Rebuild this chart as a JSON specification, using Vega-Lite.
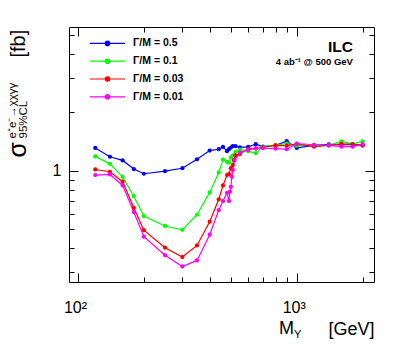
{
  "$schema": "https://vega.github.io/schema/vega-lite/v6.json",
  "width": 305,
  "height": 255,
  "autosize": {"type": "none"},
  "padding": {"left": 69, "top": 27, "right": 33, "bottom": 62},
  "background": "white",
  "config": {"view": {"stroke": null}, "font": "Liberation Sans"},
  "title": {"text": "Y", "orient": "bottom", "anchor": "start", "frame": "group", "dx": 225, "offset": -9, "fontSize": 11, "font": "Liberation Sans", "fontWeight": "normal", "color": "black", "baseline": "top"},
  "data": {"values": [
    {"mass": 120, "series": "Γ/M = 0.5", "sigma": 1.31},
    {"mass": 140, "series": "Γ/M = 0.5", "sigma": 1.18},
    {"mass": 160, "series": "Γ/M = 0.5", "sigma": 1.13},
    {"mass": 180, "series": "Γ/M = 0.5", "sigma": 1.02},
    {"mass": 200, "series": "Γ/M = 0.5", "sigma": 0.965},
    {"mass": 250, "series": "Γ/M = 0.5", "sigma": 0.995},
    {"mass": 300, "series": "Γ/M = 0.5", "sigma": 1.03},
    {"mass": 350, "series": "Γ/M = 0.5", "sigma": 1.145},
    {"mass": 400, "series": "Γ/M = 0.5", "sigma": 1.27},
    {"mass": 440, "series": "Γ/M = 0.5", "sigma": 1.29},
    {"mass": 460, "series": "Γ/M = 0.5", "sigma": 1.325},
    {"mass": 480, "series": "Γ/M = 0.5", "sigma": 1.26},
    {"mass": 490, "series": "Γ/M = 0.5", "sigma": 1.29},
    {"mass": 500, "series": "Γ/M = 0.5", "sigma": 1.315},
    {"mass": 510, "series": "Γ/M = 0.5", "sigma": 1.34},
    {"mass": 525, "series": "Γ/M = 0.5", "sigma": 1.34},
    {"mass": 550, "series": "Γ/M = 0.5", "sigma": 1.32},
    {"mass": 600, "series": "Γ/M = 0.5", "sigma": 1.325},
    {"mass": 650, "series": "Γ/M = 0.5", "sigma": 1.37},
    {"mass": 700, "series": "Γ/M = 0.5", "sigma": 1.33},
    {"mass": 800, "series": "Γ/M = 0.5", "sigma": 1.35},
    {"mass": 900, "series": "Γ/M = 0.5", "sigma": 1.42},
    {"mass": 1000, "series": "Γ/M = 0.5", "sigma": 1.31},
    {"mass": 1200, "series": "Γ/M = 0.5", "sigma": 1.35},
    {"mass": 1400, "series": "Γ/M = 0.5", "sigma": 1.365},
    {"mass": 1600, "series": "Γ/M = 0.5", "sigma": 1.36},
    {"mass": 1800, "series": "Γ/M = 0.5", "sigma": 1.365},
    {"mass": 2000, "series": "Γ/M = 0.5", "sigma": 1.35},

    {"mass": 120, "series": "Γ/M = 0.1", "sigma": 1.185},
    {"mass": 140, "series": "Γ/M = 0.1", "sigma": 1.085},
    {"mass": 160, "series": "Γ/M = 0.1", "sigma": 0.93},
    {"mass": 180, "series": "Γ/M = 0.1", "sigma": 0.74},
    {"mass": 200, "series": "Γ/M = 0.1", "sigma": 0.585},
    {"mass": 250, "series": "Γ/M = 0.1", "sigma": 0.52},
    {"mass": 300, "series": "Γ/M = 0.1", "sigma": 0.497},
    {"mass": 350, "series": "Γ/M = 0.1", "sigma": 0.594},
    {"mass": 400, "series": "Γ/M = 0.1", "sigma": 0.774},
    {"mass": 440, "series": "Γ/M = 0.1", "sigma": 0.98},
    {"mass": 460, "series": "Γ/M = 0.1", "sigma": 1.14},
    {"mass": 480, "series": "Γ/M = 0.1", "sigma": 1.11},
    {"mass": 490, "series": "Γ/M = 0.1", "sigma": 1.10},
    {"mass": 500, "series": "Γ/M = 0.1", "sigma": 1.17},
    {"mass": 510, "series": "Γ/M = 0.1", "sigma": 1.2},
    {"mass": 525, "series": "Γ/M = 0.1", "sigma": 1.25},
    {"mass": 550, "series": "Γ/M = 0.1", "sigma": 1.285},
    {"mass": 600, "series": "Γ/M = 0.1", "sigma": 1.26},
    {"mass": 650, "series": "Γ/M = 0.1", "sigma": 1.23},
    {"mass": 700, "series": "Γ/M = 0.1", "sigma": 1.33},
    {"mass": 800, "series": "Γ/M = 0.1", "sigma": 1.355},
    {"mass": 900, "series": "Γ/M = 0.1", "sigma": 1.38},
    {"mass": 1000, "series": "Γ/M = 0.1", "sigma": 1.345},
    {"mass": 1200, "series": "Γ/M = 0.1", "sigma": 1.35},
    {"mass": 1400, "series": "Γ/M = 0.1", "sigma": 1.35},
    {"mass": 1600, "series": "Γ/M = 0.1", "sigma": 1.415},
    {"mass": 1800, "series": "Γ/M = 0.1", "sigma": 1.375},
    {"mass": 2000, "series": "Γ/M = 0.1", "sigma": 1.415},

    {"mass": 120, "series": "Γ/M = 0.03", "sigma": 1.015},
    {"mass": 140, "series": "Γ/M = 0.03", "sigma": 0.988},
    {"mass": 160, "series": "Γ/M = 0.03", "sigma": 0.878},
    {"mass": 180, "series": "Γ/M = 0.03", "sigma": 0.645},
    {"mass": 200, "series": "Γ/M = 0.03", "sigma": 0.495},
    {"mass": 250, "series": "Γ/M = 0.03", "sigma": 0.402},
    {"mass": 300, "series": "Γ/M = 0.03", "sigma": 0.36},
    {"mass": 350, "series": "Γ/M = 0.03", "sigma": 0.413},
    {"mass": 400, "series": "Γ/M = 0.03", "sigma": 0.547},
    {"mass": 440, "series": "Γ/M = 0.03", "sigma": 0.713},
    {"mass": 460, "series": "Γ/M = 0.03", "sigma": 0.84},
    {"mass": 480, "series": "Γ/M = 0.03", "sigma": 0.95},
    {"mass": 490, "series": "Γ/M = 0.03", "sigma": 0.96},
    {"mass": 500, "series": "Γ/M = 0.03", "sigma": 1.03},
    {"mass": 510, "series": "Γ/M = 0.03", "sigma": 1.07},
    {"mass": 515, "series": "Γ/M = 0.03", "sigma": 1.135},
    {"mass": 525, "series": "Γ/M = 0.03", "sigma": 1.2},
    {"mass": 550, "series": "Γ/M = 0.03", "sigma": 1.22},
    {"mass": 600, "series": "Γ/M = 0.03", "sigma": 1.30},
    {"mass": 650, "series": "Γ/M = 0.03", "sigma": 1.30},
    {"mass": 700, "series": "Γ/M = 0.03", "sigma": 1.32},
    {"mass": 800, "series": "Γ/M = 0.03", "sigma": 1.35},
    {"mass": 900, "series": "Γ/M = 0.03", "sigma": 1.345},
    {"mass": 1000, "series": "Γ/M = 0.03", "sigma": 1.375},
    {"mass": 1200, "series": "Γ/M = 0.03", "sigma": 1.33},
    {"mass": 1400, "series": "Γ/M = 0.03", "sigma": 1.35},
    {"mass": 1600, "series": "Γ/M = 0.03", "sigma": 1.375},
    {"mass": 1800, "series": "Γ/M = 0.03", "sigma": 1.365},
    {"mass": 2000, "series": "Γ/M = 0.03", "sigma": 1.35},

    {"mass": 120, "series": "Γ/M = 0.01", "sigma": 0.95},
    {"mass": 140, "series": "Γ/M = 0.01", "sigma": 0.957},
    {"mass": 160, "series": "Γ/M = 0.01", "sigma": 0.84},
    {"mass": 180, "series": "Γ/M = 0.01", "sigma": 0.613},
    {"mass": 200, "series": "Γ/M = 0.01", "sigma": 0.458},
    {"mass": 250, "series": "Γ/M = 0.01", "sigma": 0.368},
    {"mass": 300, "series": "Γ/M = 0.01", "sigma": 0.322},
    {"mass": 350, "series": "Γ/M = 0.01", "sigma": 0.346},
    {"mass": 400, "series": "Γ/M = 0.01", "sigma": 0.469},
    {"mass": 440, "series": "Γ/M = 0.01", "sigma": 0.628},
    {"mass": 460, "series": "Γ/M = 0.01", "sigma": 0.698},
    {"mass": 480, "series": "Γ/M = 0.01", "sigma": 0.77},
    {"mass": 490, "series": "Γ/M = 0.01", "sigma": 0.70},
    {"mass": 495, "series": "Γ/M = 0.01", "sigma": 0.78},
    {"mass": 500, "series": "Γ/M = 0.01", "sigma": 0.827},
    {"mass": 505, "series": "Γ/M = 0.01", "sigma": 0.93},
    {"mass": 510, "series": "Γ/M = 0.01", "sigma": 1.01},
    {"mass": 520, "series": "Γ/M = 0.01", "sigma": 1.135},
    {"mass": 550, "series": "Γ/M = 0.01", "sigma": 1.24},
    {"mass": 600, "series": "Γ/M = 0.01", "sigma": 1.28},
    {"mass": 650, "series": "Γ/M = 0.01", "sigma": 1.305},
    {"mass": 700, "series": "Γ/M = 0.01", "sigma": 1.305},
    {"mass": 800, "series": "Γ/M = 0.01", "sigma": 1.30},
    {"mass": 900, "series": "Γ/M = 0.01", "sigma": 1.29},
    {"mass": 1000, "series": "Γ/M = 0.01", "sigma": 1.38},
    {"mass": 1200, "series": "Γ/M = 0.01", "sigma": 1.36},
    {"mass": 1400, "series": "Γ/M = 0.01", "sigma": 1.35},
    {"mass": 1600, "series": "Γ/M = 0.01", "sigma": 1.33},
    {"mass": 1800, "series": "Γ/M = 0.01", "sigma": 1.33},
    {"mass": 2000, "series": "Γ/M = 0.01", "sigma": 1.37}
  ]},
  "resolve": {"axis": {"x": "independent", "y": "independent"}},
  "layer": [
    {
      "mark": {"type": "line", "strokeWidth": 1.2},
      "encoding": {
        "x": {"field": "mass", "type": "quantitative",
          "scale": {"type": "log", "domain": [91, 2255], "nice": false, "zero": false},
          "axis": {"orient": "bottom", "values": [100,200,300,400,500,600,700,800,900,1000,2000],
            "labelExpr": "datum.value == 100 ? '10²' : datum.value == 1000 ? '10³' : ''",
            "tickSize": {"condition": {"test": "datum.value == 100 || datum.value == 1000", "value": -9}, "value": -5},
            "labelPadding": 26, "labelBaseline": "top", "labelFont": "Liberation Sans", "labelFontSize": 16,
            "labelColor": "black", "labelFlush": false, "labelOverlap": false, "labelOffset": -3,
            "grid": false, "domainColor": "black", "tickColor": "black", "tickWidth": 1,
            "title": "[GeV]", "titleFont": "Liberation Sans", "titleFontSize": 18,
            "titleFontWeight": "normal", "titleColor": "black", "titleAlign": "right", "titleBaseline": "alphabetic",
            "titleX": 305, "titleY": 52}},
        "y": {"field": "sigma", "type": "quantitative",
          "scale": {"type": "log", "domain": [0.268, 5.48], "nice": false, "zero": false},
          "axis": {"orient": "left", "values": [0.3,0.4,0.5,0.6,0.7,0.8,0.9,1,2,3,4,5],
            "labelExpr": "datum.value == 1 ? '1' : ''",
            "tickSize": {"condition": {"test": "datum.value == 1", "value": -9}, "value": -5},
            "labelPadding": 17, "labelBaseline": "middle", "labelFont": "Liberation Sans", "labelFontSize": 16,
            "labelColor": "black", "labelFlush": false, "labelOverlap": false,
            "grid": false, "domainColor": "black", "tickColor": "black",
            "title": ["e⁺e⁻→χχγγ", "95%CL"], "titleFont": "Liberation Sans", "titleFontSize": 11.5, "titleLineHeight": 11,
            "titleFontWeight": "normal", "titleColor": "black", "titleAngle": -90, "titleAlign": "left", "titleBaseline": "alphabetic",
            "titleX": -54, "titleY": 111}},
        "color": {"field": "series", "type": "nominal",
          "scale": {"domain": ["Γ/M = 0.5", "Γ/M = 0.1", "Γ/M = 0.03", "Γ/M = 0.01"], "range": ["#0000ff", "#00ff00", "#ff0000", "#ff00ff"]},
          "legend": {"orient": "none", "legendX": 32.5, "legendY": 10.4, "title": null, "padding": 0,
            "symbolType": "M-3.5,0L3.5,0M-0.44,0a0.44,0.44 0 1,0 0.88,0a0.44,0.44 0 1,0 -0.88,0",
            "symbolSize": 100, "symbolStrokeWidth": 1.2, "labelFont": "Liberation Sans", "labelFontSize": 10.5,
            "labelFontWeight": "bold", "labelColor": "black", "labelOffset": 19.5, "rowPadding": 5.8,
            "encode": {"symbols": {"update": {"fill": {"scale": "color", "field": "value"}}}}}}
      }
    },
    {
      "mark": {"type": "circle", "size": 18, "opacity": 1},
      "encoding": {
        "x": {"field": "mass", "type": "quantitative",
          "axis": {"orient": "top", "values": [100,200,300,400,500,600,700,800,900,1000,2000], "labels": false,
            "tickSize": {"condition": {"test": "datum.value == 100 || datum.value == 1000", "value": -9}, "value": -5},
            "grid": false, "domainColor": "black", "tickColor": "black",
            "title": "[fb]", "titleFont": "Liberation Sans", "titleFontSize": 20, "titleFontWeight": "normal", "titleColor": "black",
            "titleAngle": -90, "titleAlign": "left", "titleBaseline": "alphabetic", "titleX": -45, "titleY": 30}},
        "y": {"field": "sigma", "type": "quantitative",
          "axis": {"orient": "right", "values": [0.3,0.4,0.5,0.6,0.7,0.8,0.9,1,2,3,4,5], "labels": false,
            "tickSize": {"condition": {"test": "datum.value == 1", "value": -9}, "value": -5},
            "grid": false, "domainColor": "black", "tickColor": "black",
            "title": "σ", "titleFont": "Liberation Sans", "titleFontSize": 25, "titleFontWeight": "normal", "titleColor": "black",
            "titleAngle": -90, "titleAlign": "left", "titleBaseline": "alphabetic", "titleX": -349, "titleY": 130}},
        "color": {"field": "series", "type": "nominal", "legend": null}
      }
    },
    {
      "data": {"values": [{}]},
      "mark": {"type": "text", "text": "ILC", "font": "Liberation Sans", "fontSize": 15.5, "fontWeight": "bold", "align": "right", "baseline": "alphabetic", "color": "black"},
      "encoding": {
        "x": {"datum": 1807, "type": "quantitative", "axis": null},
        "y": {"datum": 4.08, "type": "quantitative", "axis": null}
      }
    },
    {
      "data": {"values": [{}]},
      "mark": {"type": "text", "text": "4 ab⁻¹ @ 500 GeV", "font": "Liberation Sans", "fontSize": 9.5, "fontWeight": "bold", "align": "right", "baseline": "alphabetic", "color": "black"},
      "encoding": {
        "x": {"datum": 1807, "type": "quantitative", "axis": null},
        "y": {"datum": 3.5, "type": "quantitative", "axis": null}
      }
    },
    {
      "data": {"values": [{}]},
      "mark": {"type": "text", "text": "M", "font": "Liberation Sans", "fontSize": 18, "fontWeight": "normal", "align": "left", "baseline": "alphabetic", "color": "black", "clip": false},
      "encoding": {
        "x": {"datum": 830, "type": "quantitative", "axis": null},
        "y": {"datum": 0.1446, "type": "quantitative", "axis": null}
      }
    }
  ]
}
